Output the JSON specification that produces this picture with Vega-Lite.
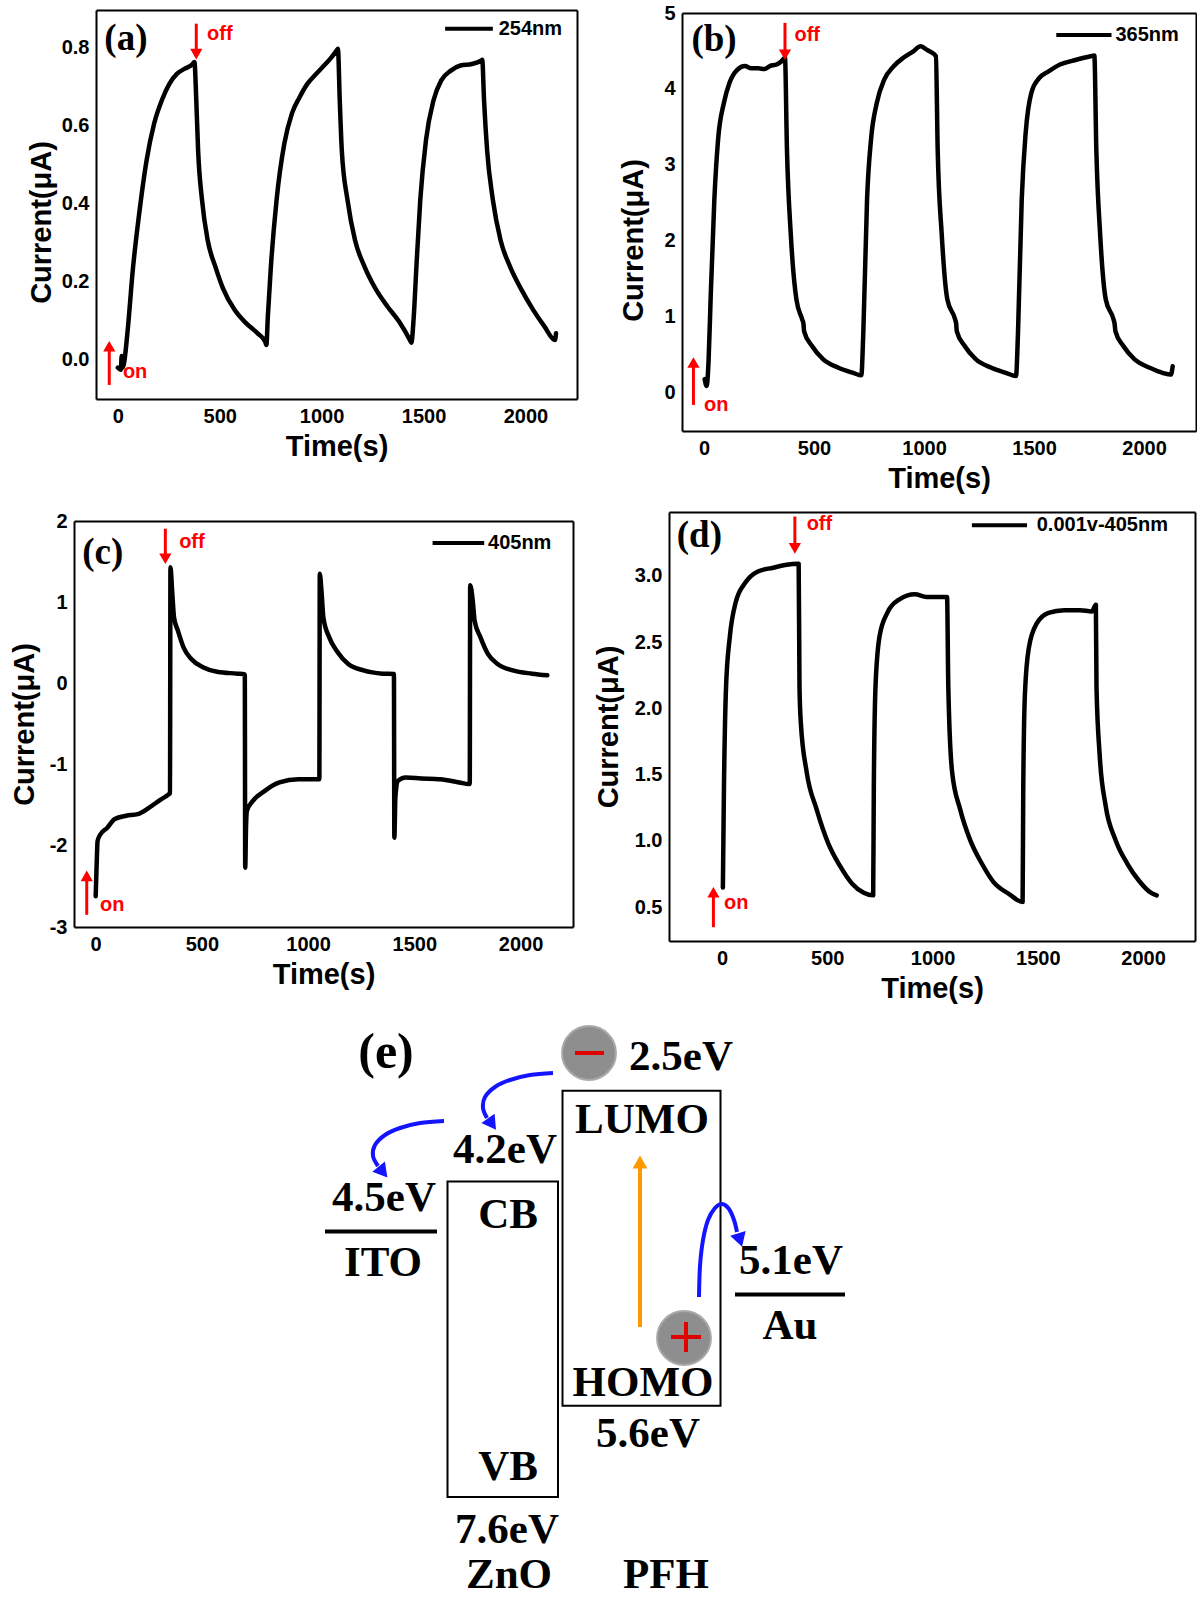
{
"$schema": "https://vega.github.io/schema/vega-lite/v6.json",
"width": 1197, "height": 1597,
"autosize": {"type": "none"},
"padding": 0,
"background": "white",
"config": {
 "view": {"stroke": null},
 "line": {"interpolate": "monotone"},
 "axis": {"grid": false, "ticks": false, "domain": true, "domainColor": "black", "domainWidth": 2,
  "labelFont": "Liberation Sans", "labelFontSize": 20, "labelFontWeight": "bold", "labelColor": "black", "labelPadding": 7,
  "titleFont": "Liberation Sans", "titleFontSize": 29, "titleFontWeight": "bold", "titleColor": "black", "titlePadding": 6}
},
"datasets": {
 "cA": [{"t":0,"i":-0.02},{"t":15,"i":-0.025},{"t":19,"i":0.01},{"t":24,"i":-0.02},{"t":30,"i":-0.01},{"t":47,"i":0.068},{"t":75,"i":0.238},{"t":103,"i":0.366},{"t":141,"i":0.51},{"t":178,"i":0.604},{"t":216,"i":0.664},{"t":253,"i":0.706},{"t":291,"i":0.732},{"t":329,"i":0.745},{"t":366,"i":0.756},{"t":376,"i":0.762},{"t":385,"i":0.664},{"t":394,"i":0.536},{"t":413,"i":0.41},{"t":441,"i":0.306},{"t":479,"i":0.238},{"t":516,"i":0.183},{"t":573,"i":0.128},{"t":629,"i":0.094},{"t":686,"i":0.068},{"t":723,"i":0.047},{"t":729,"i":0.038},{"t":736,"i":0.11},{"t":751,"i":0.238},{"t":779,"i":0.409},{"t":817,"i":0.553},{"t":854,"i":0.63},{"t":892,"i":0.672},{"t":930,"i":0.706},{"t":967,"i":0.728},{"t":1005,"i":0.749},{"t":1042,"i":0.77},{"t":1076,"i":0.793},{"t":1080,"i":0.796},{"t":1089,"i":0.664},{"t":1099,"i":0.536},{"t":1127,"i":0.409},{"t":1164,"i":0.306},{"t":1211,"i":0.238},{"t":1268,"i":0.179},{"t":1324,"i":0.136},{"t":1380,"i":0.098},{"t":1437,"i":0.047},{"t":1440,"i":0.044},{"t":1452,"i":0.11},{"t":1465,"i":0.238},{"t":1484,"i":0.409},{"t":1512,"i":0.562},{"t":1549,"i":0.664},{"t":1587,"i":0.715},{"t":1634,"i":0.74},{"t":1681,"i":0.753},{"t":1737,"i":0.757},{"t":1784,"i":0.766},{"t":1788,"i":0.768},{"t":1797,"i":0.664},{"t":1812,"i":0.536},{"t":1840,"i":0.41},{"t":1878,"i":0.306},{"t":1925,"i":0.238},{"t":1981,"i":0.179},{"t":2038,"i":0.128},{"t":2094,"i":0.085},{"t":2145,"i":0.051},{"t":2150,"i":0.068}],
 "cB": [{"t":3,"i":0.17},{"t":12,"i":0.08},{"t":21,"i":0.43},{"t":30,"i":1.22},{"t":47,"i":2.54},{"t":64,"i":3.33},{"t":90,"i":3.81},{"t":116,"i":4.08},{"t":151,"i":4.25},{"t":186,"i":4.3},{"t":215,"i":4.27},{"t":247,"i":4.27},{"t":275,"i":4.26},{"t":299,"i":4.3},{"t":330,"i":4.32},{"t":351,"i":4.36},{"t":368,"i":4.41},{"t":377,"i":3.2},{"t":394,"i":2.1},{"t":420,"i":1.22},{"t":446,"i":0.96},{"t":452,"i":0.9},{"t":455,"i":0.8},{"t":490,"i":0.61},{"t":542,"i":0.43},{"t":611,"i":0.32},{"t":681,"i":0.25},{"t":715,"i":0.22},{"t":724,"i":0.78},{"t":741,"i":2.54},{"t":759,"i":3.33},{"t":785,"i":3.81},{"t":819,"i":4.12},{"t":863,"i":4.3},{"t":906,"i":4.41},{"t":950,"i":4.49},{"t":984,"i":4.56},{"t":1010,"i":4.52},{"t":1028,"i":4.49},{"t":1054,"i":4.43},{"t":1062,"i":3.2},{"t":1080,"i":2.1},{"t":1106,"i":1.22},{"t":1141,"i":0.96},{"t":1146,"i":0.9},{"t":1149,"i":0.8},{"t":1184,"i":0.61},{"t":1236,"i":0.43},{"t":1306,"i":0.32},{"t":1375,"i":0.25},{"t":1418,"i":0.21},{"t":1427,"i":0.78},{"t":1444,"i":2.54},{"t":1462,"i":3.42},{"t":1488,"i":3.95},{"t":1523,"i":4.14},{"t":1566,"i":4.23},{"t":1618,"i":4.32},{"t":1688,"i":4.38},{"t":1757,"i":4.43},{"t":1774,"i":4.44},{"t":1783,"i":3.2},{"t":1800,"i":2.1},{"t":1826,"i":1.22},{"t":1861,"i":0.96},{"t":1866,"i":0.9},{"t":1870,"i":0.8},{"t":1905,"i":0.61},{"t":1957,"i":0.43},{"t":2026,"i":0.32},{"t":2087,"i":0.25},{"t":2122,"i":0.23},{"t":2130,"i":0.34}],
 "cC": [{"t":0,"i":-2.62},{"t":5,"i":-2.2},{"t":9,"i":-1.94},{"t":22,"i":-1.86},{"t":54,"i":-1.78},{"t":90,"i":-1.67},{"t":144,"i":-1.63},{"t":198,"i":-1.61},{"t":252,"i":-1.53},{"t":306,"i":-1.43},{"t":342,"i":-1.37},{"t":350,"i":-1.35},{"t":352,"i":1.43},{"t":360,"i":1.14},{"t":369,"i":0.81},{"t":387,"i":0.65},{"t":414,"i":0.44},{"t":450,"i":0.3},{"t":505,"i":0.2},{"t":577,"i":0.14},{"t":667,"i":0.12},{"t":702,"i":0.11},{"t":704,"i":-2.27},{"t":708,"i":-1.75},{"t":712,"i":-1.57},{"t":739,"i":-1.45},{"t":793,"i":-1.33},{"t":865,"i":-1.22},{"t":955,"i":-1.18},{"t":1045,"i":-1.18},{"t":1053,"i":-1.18},{"t":1055,"i":1.35},{"t":1063,"i":1.14},{"t":1072,"i":0.81},{"t":1099,"i":0.57},{"t":1135,"i":0.4},{"t":1189,"i":0.24},{"t":1261,"i":0.16},{"t":1351,"i":0.12},{"t":1404,"i":0.115},{"t":1406,"i":-1.9},{"t":1411,"i":-1.4},{"t":1423,"i":-1.2},{"t":1459,"i":-1.16},{"t":1532,"i":-1.17},{"t":1622,"i":-1.18},{"t":1712,"i":-1.22},{"t":1757,"i":-1.24},{"t":1761,"i":-1.24},{"t":1763,"i":1.21},{"t":1775,"i":1.02},{"t":1784,"i":0.77},{"t":1811,"i":0.57},{"t":1847,"i":0.36},{"t":1892,"i":0.24},{"t":1964,"i":0.16},{"t":2054,"i":0.12},{"t":2126,"i":0.1}],
 "cD": [{"t":4,"i":0.65},{"t":9,"i":1.39},{"t":19,"i":2.16},{"t":37,"i":2.54},{"t":65,"i":2.8},{"t":112,"i":2.95},{"t":168,"i":3.03},{"t":243,"i":3.06},{"t":299,"i":3.08},{"t":364,"i":3.09},{"t":368,"i":2.16},{"t":374,"i":1.9},{"t":402,"i":1.52},{"t":449,"i":1.24},{"t":505,"i":0.98},{"t":561,"i":0.81},{"t":617,"i":0.68},{"t":673,"i":0.61},{"t":718,"i":0.59},{"t":721,"i":1.39},{"t":729,"i":2.16},{"t":748,"i":2.54},{"t":785,"i":2.72},{"t":841,"i":2.82},{"t":916,"i":2.86},{"t":972,"i":2.84},{"t":1047,"i":2.84},{"t":1069,"i":2.84},{"t":1075,"i":2.16},{"t":1093,"i":1.52},{"t":1131,"i":1.24},{"t":1178,"i":1.01},{"t":1234,"i":0.83},{"t":1290,"i":0.69},{"t":1364,"i":0.6},{"t":1428,"i":0.54},{"t":1431,"i":1.39},{"t":1439,"i":2.11},{"t":1458,"i":2.46},{"t":1495,"i":2.64},{"t":1551,"i":2.72},{"t":1626,"i":2.74},{"t":1701,"i":2.74},{"t":1757,"i":2.73},{"t":1776,"i":2.78},{"t":1779,"i":2.16},{"t":1794,"i":1.65},{"t":1822,"i":1.27},{"t":1869,"i":1.01},{"t":1925,"i":0.83},{"t":1981,"i":0.7},{"t":2037,"i":0.61},{"t":2065,"i":0.59}],
 "lA": [{"t":1606,"t2":1840,"i":0.847}],
 "lB": [{"t":1601,"t2":1852,"i":4.71}],
 "lC": [{"t":1586,"t2":1829,"i":1.73}],
 "lD": [{"t":1187,"t2":1449,"i":3.38}],
 "rA": [{"t":-42,"i":-0.064,"i2":0.035},{"t":385,"i":0.86,"i2":0.782}],
 "rB": [{"t":-48,"i":-0.17,"i2":0.39},{"t":368,"i":4.87,"i2":4.45}],
 "rC": [{"t":-42,"i":-2.85,"i2":-2.37},{"t":328,"i":1.905,"i2":1.535}],
 "rD": [{"t":-41,"i":0.35,"i2":0.613},{"t":346,"i":3.446,"i2":3.206}],
 "hA": [{"t":-42,"i":0.035,"dir":"up"},{"t":385,"i":0.782,"dir":"down"}],
 "hB": [{"t":-48,"i":0.39,"dir":"up"},{"t":368,"i":4.45,"dir":"down"}],
 "hC": [{"t":-42,"i":-2.37,"dir":"up"},{"t":328,"i":1.535,"dir":"down"}],
 "hD": [{"t":-41,"i":0.613,"dir":"up"},{"t":346,"i":3.206,"dir":"down"}],
 "nA": [{"t":-66,"i":0.821,"label":"(a)","role":"tag"},{"t":25,"i":-0.03,"label":"on","role":"red"},{"t":438,"i":0.834,"label":"off","role":"red"},{"t":1869,"i":0.847,"label":"254nm","role":"leg"}],
 "nB": [{"t":-57,"i":4.64,"label":"(b)","role":"tag"},{"t":0,"i":-0.17,"label":"on","role":"red"},{"t":411,"i":4.71,"label":"off","role":"red"},{"t":1870,"i":4.71,"label":"365nm","role":"leg"}],
 "nC": [{"t":-63,"i":1.6,"label":"(c)","role":"tag"},{"t":20,"i":-2.73,"label":"on","role":"red"},{"t":393,"i":1.74,"label":"off","role":"red"},{"t":1847,"i":1.73,"label":"405nm","role":"leg"}],
 "nD": [{"t":-215,"i":3.3,"label":"(d)","role":"tag"},{"t":9,"i":0.53,"label":"on","role":"red"},{"t":402,"i":3.39,"label":"off","role":"red"},{"t":1495,"i":3.38,"label":"0.001v-405nm","role":"leg"}],
 "eBox": [{"name":"ZnO","ex":147.5,"ex2":258,"ey":181.5,"ey2":497},{"name":"PFH","ex":262.5,"ex2":420.5,"ey":90.7,"ey2":405.7}],
 "eLevel": [{"name":"ITO","ex":25,"ex2":137,"ey":231.6,"ey2":231.6},{"name":"Au","ex":435,"ex2":545,"ey":294.5,"ey2":294.5}],
 "eCar": [{"carrier":"electron","ex":289,"ey":53},{"carrier":"hole","ex":384,"ey":338}],
 "eSign": [{"ex":275,"ex2":304,"ey":53,"ey2":53},{"ex":371,"ex2":401,"ey":337,"ey2":337},{"ex":386,"ex2":386,"ey":322,"ey2":352}],
 "eExc": [{"ex":340,"ex2":340,"ey":327,"ey2":168}],
 "eExcHead": [{"ex":340,"ey":162,"ang":0}],
 "eFlow": [{"id":1,"k":0,"ex":253,"ey":73},{"id":1,"k":1,"ex":230,"ey":75},{"id":1,"k":2,"ex":210,"ey":80},{"id":1,"k":3,"ex":195,"ey":87},{"id":1,"k":4,"ex":185,"ey":97},{"id":1,"k":5,"ex":183,"ey":108},{"id":1,"k":6,"ex":187,"ey":118},
  {"id":2,"k":0,"ex":144,"ey":121},{"id":2,"k":1,"ex":120,"ey":123},{"id":2,"k":2,"ex":100,"ey":128},{"id":2,"k":3,"ex":85,"ey":135},{"id":2,"k":4,"ex":75,"ey":145},{"id":2,"k":5,"ex":73,"ey":156},{"id":2,"k":6,"ex":78,"ey":166},
  {"id":3,"k":0,"ex":399,"ey":297},{"id":3,"k":1,"ex":400,"ey":266},{"id":3,"k":2,"ex":403,"ey":240},{"id":3,"k":3,"ex":408,"ey":220},{"id":3,"k":4,"ex":415,"ey":208},{"id":3,"k":5,"ex":422,"ey":204},{"id":3,"k":6,"ex":429,"ey":209},{"id":3,"k":7,"ex":434,"ey":220},{"id":3,"k":8,"ex":437,"ey":232}],
 "eHead": [{"id":1,"ex":192,"ey":124,"ang":145},{"id":2,"ex":83,"ey":172,"ang":141},{"id":3,"ex":440,"ey":240,"ang":163}],
 "eTxt": [{"label":"2.5eV","ex":381,"ey":57},{"label":"4.2eV","ex":205,"ey":150},{"label":"LUMO","ex":342,"ey":120},{"label":"4.5eV","ex":84,"ey":198},{"label":"CB","ex":208,"ey":215},{"label":"ITO","ex":83,"ey":263},{"label":"5.1eV","ex":491,"ey":261},{"label":"Au","ex":490,"ey":326},{"label":"HOMO","ex":343,"ey":383},{"label":"5.6eV","ex":348,"ey":434},{"label":"VB","ex":208,"ey":467},{"label":"7.6eV","ex":207,"ey":530},{"label":"ZnO","ex":209,"ey":575},{"label":"PFH","ex":366,"ey":575}],
 "eTag": [{"label":"(e)","ex":86,"ey":53}]
},
"layer": [
 {"layer": [
  {"data": {"name": "cA"}, "mark": {"type": "line", "color": "black", "strokeWidth": 4.5, "strokeJoin": "round", "strokeCap": "round"},
   "encoding": {
    "x": {"field": "t", "type": "quantitative", "scale": {"domain": [-107, 2253], "range": [96, 577], "nice": false, "zero": false},
          "axis": {"orient": "bottom", "offset": -1198, "values": [0, 500, 1000, 1500, 2000], "format": "d", "title": "Time(s)"}},
    "y": {"field": "i", "type": "quantitative", "scale": {"domain": [-0.1, 0.895], "range": [399, 10], "nice": false, "zero": false},
          "axis": {"orient": "left", "offset": -96, "values": [0, 0.2, 0.4, 0.6, 0.8], "format": ".1f", "title": "Current(μA)", "titlePadding": 5, "titleY": 222}}}},
  {"data": {"name": "lA"}, "mark": {"type": "rule", "color": "black", "strokeWidth": 4},
   "encoding": {"x": {"field": "t", "type": "quantitative", "axis": {"orient": "top", "offset": -10, "labels": false, "title": null}}, "x2": {"field": "t2"},
    "y": {"field": "i", "type": "quantitative", "axis": {"orient": "right", "offset": -620, "labels": false, "title": null}}}},
  {"data": {"name": "rA"}, "mark": {"type": "rule", "color": "#ff0000", "strokeWidth": 3},
   "encoding": {"x": {"field": "t", "type": "quantitative", "axis": null}, "y": {"field": "i", "type": "quantitative", "axis": null}, "y2": {"field": "i2"}}},
  {"data": {"name": "hA"}, "mark": {"type": "point", "filled": true, "color": "#ff0000", "opacity": 1, "size": 150},
   "encoding": {"x": {"field": "t", "type": "quantitative", "axis": null}, "y": {"field": "i", "type": "quantitative", "axis": null},
    "shape": {"field": "dir", "type": "nominal", "scale": {"domain": ["up", "down"], "range": ["triangle-up", "triangle-down"]}, "legend": null}}},
  {"data": {"name": "nA"}, "transform": [{"filter": "datum.role === 'red'"}], "mark": {"type": "text", "align": "left", "baseline": "middle", "font": "Liberation Sans", "fontWeight": "bold", "fontSize": 20, "color": "#ff0000"},
   "encoding": {"x": {"field": "t", "type": "quantitative", "axis": null}, "y": {"field": "i", "type": "quantitative", "axis": null}, "text": {"field": "label"}}},
  {"data": {"name": "nA"}, "transform": [{"filter": "datum.role === 'tag'"}], "mark": {"type": "text", "align": "left", "baseline": "middle", "font": "Liberation Serif", "fontWeight": "bold", "fontSize": 37, "color": "black"},
   "encoding": {"x": {"field": "t", "type": "quantitative", "axis": null}, "y": {"field": "i", "type": "quantitative", "axis": null}, "text": {"field": "label"}}},
  {"data": {"name": "nA"}, "transform": [{"filter": "datum.role === 'leg'"}], "mark": {"type": "text", "align": "left", "baseline": "middle", "font": "Liberation Sans", "fontWeight": "bold", "fontSize": 20, "color": "black"},
   "encoding": {"x": {"field": "t", "type": "quantitative", "axis": null}, "y": {"field": "i", "type": "quantitative", "axis": null}, "text": {"field": "label"}}}
 ]},
 {"layer": [
  {"data": {"name": "cB"}, "mark": {"type": "line", "color": "black", "strokeWidth": 4.5, "strokeJoin": "round", "strokeCap": "round"},
   "encoding": {
    "x": {"field": "t", "type": "quantitative", "scale": {"domain": [-100, 2236], "range": [682, 1196], "nice": false, "zero": false},
          "axis": {"orient": "bottom", "offset": -1166, "values": [0, 500, 1000, 1500, 2000], "format": "d", "title": "Time(s)"}},
    "y": {"field": "i", "type": "quantitative", "scale": {"domain": [-0.514, 5.0], "range": [431, 13], "nice": false, "zero": false},
          "axis": {"orient": "left", "offset": -682, "values": [0, 1, 2, 3, 4, 5], "title": "Current(μA)", "titlePadding": 15, "titleY": 240}}}},
  {"data": {"name": "lB"}, "mark": {"type": "rule", "color": "black", "strokeWidth": 4},
   "encoding": {"x": {"field": "t", "type": "quantitative", "axis": {"orient": "top", "offset": -13, "labels": false, "title": null}}, "x2": {"field": "t2"},
    "y": {"field": "i", "type": "quantitative", "axis": {"orient": "right", "offset": -1, "labels": false, "title": null}}}},
  {"data": {"name": "rB"}, "mark": {"type": "rule", "color": "#ff0000", "strokeWidth": 3},
   "encoding": {"x": {"field": "t", "type": "quantitative", "axis": null}, "y": {"field": "i", "type": "quantitative", "axis": null}, "y2": {"field": "i2"}}},
  {"data": {"name": "hB"}, "mark": {"type": "point", "filled": true, "color": "#ff0000", "opacity": 1, "size": 150},
   "encoding": {"x": {"field": "t", "type": "quantitative", "axis": null}, "y": {"field": "i", "type": "quantitative", "axis": null},
    "shape": {"field": "dir", "type": "nominal", "scale": {"domain": ["up", "down"], "range": ["triangle-up", "triangle-down"]}, "legend": null}}},
  {"data": {"name": "nB"}, "transform": [{"filter": "datum.role === 'red'"}], "mark": {"type": "text", "align": "left", "baseline": "middle", "font": "Liberation Sans", "fontWeight": "bold", "fontSize": 20, "color": "#ff0000"},
   "encoding": {"x": {"field": "t", "type": "quantitative", "axis": null}, "y": {"field": "i", "type": "quantitative", "axis": null}, "text": {"field": "label"}}},
  {"data": {"name": "nB"}, "transform": [{"filter": "datum.role === 'tag'"}], "mark": {"type": "text", "align": "left", "baseline": "middle", "font": "Liberation Serif", "fontWeight": "bold", "fontSize": 37, "color": "black"},
   "encoding": {"x": {"field": "t", "type": "quantitative", "axis": null}, "y": {"field": "i", "type": "quantitative", "axis": null}, "text": {"field": "label"}}},
  {"data": {"name": "nB"}, "transform": [{"filter": "datum.role === 'leg'"}], "mark": {"type": "text", "align": "left", "baseline": "middle", "font": "Liberation Sans", "fontWeight": "bold", "fontSize": 20, "color": "black"},
   "encoding": {"x": {"field": "t", "type": "quantitative", "axis": null}, "y": {"field": "i", "type": "quantitative", "axis": null}, "text": {"field": "label"}}}
 ]},
 {"layer": [
  {"data": {"name": "cC"}, "mark": {"type": "line", "color": "black", "strokeWidth": 4.5, "strokeJoin": "round", "strokeCap": "round"},
   "encoding": {
    "x": {"field": "t", "type": "quantitative", "scale": {"domain": [-102, 2247], "range": [74, 573], "nice": false, "zero": false},
          "axis": {"orient": "bottom", "offset": -670, "values": [0, 500, 1000, 1500, 2000], "format": "d", "title": "Time(s)"}},
    "y": {"field": "i", "type": "quantitative", "scale": {"domain": [-3, 2], "range": [927, 521], "nice": false, "zero": false},
          "axis": {"orient": "left", "offset": -74, "values": [-3, -2, -1, 0, 1, 2], "labelExpr": "replace(datum.label, '−', '-')", "title": "Current(μA)", "titlePadding": 10}}}},
  {"data": {"name": "lC"}, "mark": {"type": "rule", "color": "black", "strokeWidth": 4},
   "encoding": {"x": {"field": "t", "type": "quantitative", "axis": {"orient": "top", "offset": -521, "labels": false, "title": null}}, "x2": {"field": "t2"},
    "y": {"field": "i", "type": "quantitative", "axis": {"orient": "right", "offset": -624, "labels": false, "title": null}}}},
  {"data": {"name": "rC"}, "mark": {"type": "rule", "color": "#ff0000", "strokeWidth": 3},
   "encoding": {"x": {"field": "t", "type": "quantitative", "axis": null}, "y": {"field": "i", "type": "quantitative", "axis": null}, "y2": {"field": "i2"}}},
  {"data": {"name": "hC"}, "mark": {"type": "point", "filled": true, "color": "#ff0000", "opacity": 1, "size": 150},
   "encoding": {"x": {"field": "t", "type": "quantitative", "axis": null}, "y": {"field": "i", "type": "quantitative", "axis": null},
    "shape": {"field": "dir", "type": "nominal", "scale": {"domain": ["up", "down"], "range": ["triangle-up", "triangle-down"]}, "legend": null}}},
  {"data": {"name": "nC"}, "transform": [{"filter": "datum.role === 'red'"}], "mark": {"type": "text", "align": "left", "baseline": "middle", "font": "Liberation Sans", "fontWeight": "bold", "fontSize": 20, "color": "#ff0000"},
   "encoding": {"x": {"field": "t", "type": "quantitative", "axis": null}, "y": {"field": "i", "type": "quantitative", "axis": null}, "text": {"field": "label"}}},
  {"data": {"name": "nC"}, "transform": [{"filter": "datum.role === 'tag'"}], "mark": {"type": "text", "align": "left", "baseline": "middle", "font": "Liberation Serif", "fontWeight": "bold", "fontSize": 37, "color": "black"},
   "encoding": {"x": {"field": "t", "type": "quantitative", "axis": null}, "y": {"field": "i", "type": "quantitative", "axis": null}, "text": {"field": "label"}}},
  {"data": {"name": "nC"}, "transform": [{"filter": "datum.role === 'leg'"}], "mark": {"type": "text", "align": "left", "baseline": "middle", "font": "Liberation Sans", "fontWeight": "bold", "fontSize": 20, "color": "black"},
   "encoding": {"x": {"field": "t", "type": "quantitative", "axis": null}, "y": {"field": "i", "type": "quantitative", "axis": null}, "text": {"field": "label"}}}
 ]},
 {"layer": [
  {"data": {"name": "cD"}, "mark": {"type": "line", "color": "black", "strokeWidth": 4.5, "strokeJoin": "round", "strokeCap": "round"},
   "encoding": {
    "x": {"field": "t", "type": "quantitative", "scale": {"domain": [-252, 2247], "range": [669, 1195], "nice": false, "zero": false},
          "axis": {"orient": "bottom", "offset": -656, "values": [0, 500, 1000, 1500, 2000], "format": "d", "title": "Time(s)"}},
    "y": {"field": "i", "type": "quantitative", "scale": {"domain": [0.246, 3.48], "range": [941, 512], "nice": false, "zero": false},
          "axis": {"orient": "left", "offset": -669, "values": [0.5, 1, 1.5, 2, 2.5, 3], "format": ".1f", "title": "Current(μA)", "titlePadding": 11}}}},
  {"data": {"name": "lD"}, "mark": {"type": "rule", "color": "black", "strokeWidth": 4},
   "encoding": {"x": {"field": "t", "type": "quantitative", "axis": {"orient": "top", "offset": -512, "labels": false, "title": null}}, "x2": {"field": "t2"},
    "y": {"field": "i", "type": "quantitative", "axis": {"orient": "right", "offset": -2, "labels": false, "title": null}}}},
  {"data": {"name": "rD"}, "mark": {"type": "rule", "color": "#ff0000", "strokeWidth": 3},
   "encoding": {"x": {"field": "t", "type": "quantitative", "axis": null}, "y": {"field": "i", "type": "quantitative", "axis": null}, "y2": {"field": "i2"}}},
  {"data": {"name": "hD"}, "mark": {"type": "point", "filled": true, "color": "#ff0000", "opacity": 1, "size": 150},
   "encoding": {"x": {"field": "t", "type": "quantitative", "axis": null}, "y": {"field": "i", "type": "quantitative", "axis": null},
    "shape": {"field": "dir", "type": "nominal", "scale": {"domain": ["up", "down"], "range": ["triangle-up", "triangle-down"]}, "legend": null}}},
  {"data": {"name": "nD"}, "transform": [{"filter": "datum.role === 'red'"}], "mark": {"type": "text", "align": "left", "baseline": "middle", "font": "Liberation Sans", "fontWeight": "bold", "fontSize": 20, "color": "#ff0000"},
   "encoding": {"x": {"field": "t", "type": "quantitative", "axis": null}, "y": {"field": "i", "type": "quantitative", "axis": null}, "text": {"field": "label"}}},
  {"data": {"name": "nD"}, "transform": [{"filter": "datum.role === 'tag'"}], "mark": {"type": "text", "align": "left", "baseline": "middle", "font": "Liberation Serif", "fontWeight": "bold", "fontSize": 37, "color": "black"},
   "encoding": {"x": {"field": "t", "type": "quantitative", "axis": null}, "y": {"field": "i", "type": "quantitative", "axis": null}, "text": {"field": "label"}}},
  {"data": {"name": "nD"}, "transform": [{"filter": "datum.role === 'leg'"}], "mark": {"type": "text", "align": "left", "baseline": "middle", "font": "Liberation Sans", "fontWeight": "bold", "fontSize": 20, "color": "black"},
   "encoding": {"x": {"field": "t", "type": "quantitative", "axis": null}, "y": {"field": "i", "type": "quantitative", "axis": null}, "text": {"field": "label"}}}
 ]},
 {"layer": [
  {"data": {"name": "eBox"}, "mark": {"type": "rect", "fill": "white", "fillOpacity": 0, "stroke": "black", "strokeWidth": 2},
   "encoding": {"x": {"field": "ex", "type": "quantitative", "scale": {"domain": [0, 560], "range": [300, 860], "nice": false, "zero": false}, "axis": null}, "x2": {"field": "ex2"},
    "y": {"field": "ey", "type": "quantitative", "scale": {"domain": [0, 597], "range": [1000, 1597], "nice": false, "zero": false}, "axis": null}, "y2": {"field": "ey2"}}},
  {"data": {"name": "eLevel"}, "mark": {"type": "rule", "color": "black", "strokeWidth": 4},
   "encoding": {"x": {"field": "ex", "type": "quantitative", "axis": null}, "x2": {"field": "ex2"}, "y": {"field": "ey", "type": "quantitative", "axis": null}, "y2": {"field": "ey2"}}},
  {"data": {"name": "eCar"}, "mark": {"type": "point", "shape": "circle", "filled": true, "color": "#8e8e8e", "opacity": 1, "size": 2900, "stroke": "#a9a9a9", "strokeWidth": 2},
   "encoding": {"x": {"field": "ex", "type": "quantitative", "axis": null}, "y": {"field": "ey", "type": "quantitative", "axis": null}}},
  {"data": {"name": "eSign"}, "mark": {"type": "rule", "color": "#e00000", "strokeWidth": 4},
   "encoding": {"x": {"field": "ex", "type": "quantitative", "axis": null}, "x2": {"field": "ex2"}, "y": {"field": "ey", "type": "quantitative", "axis": null}, "y2": {"field": "ey2"}}},
  {"data": {"name": "eExc"}, "mark": {"type": "rule", "color": "#ff9900", "strokeWidth": 4},
   "encoding": {"x": {"field": "ex", "type": "quantitative", "axis": null}, "x2": {"field": "ex2"}, "y": {"field": "ey", "type": "quantitative", "axis": null}, "y2": {"field": "ey2"}}},
  {"data": {"name": "eExcHead"}, "mark": {"type": "point", "shape": "triangle-up", "filled": true, "color": "#ff9900", "opacity": 1, "size": 220},
   "encoding": {"x": {"field": "ex", "type": "quantitative", "axis": null}, "y": {"field": "ey", "type": "quantitative", "axis": null}, "angle": {"field": "ang", "type": "quantitative", "scale": null}}},
  {"data": {"name": "eFlow"}, "mark": {"type": "line", "color": "#1414ff", "strokeWidth": 4, "interpolate": "cardinal"},
   "encoding": {"x": {"field": "ex", "type": "quantitative", "axis": null}, "y": {"field": "ey", "type": "quantitative", "axis": null}, "detail": {"field": "id"}, "order": {"field": "k", "type": "quantitative"}}},
  {"data": {"name": "eHead"}, "mark": {"type": "point", "shape": "triangle-up", "filled": true, "color": "#1414ff", "opacity": 1, "size": 260},
   "encoding": {"x": {"field": "ex", "type": "quantitative", "axis": null}, "y": {"field": "ey", "type": "quantitative", "axis": null}, "angle": {"field": "ang", "type": "quantitative", "scale": null}}},
  {"data": {"name": "eTxt"}, "mark": {"type": "text", "font": "Liberation Serif", "fontWeight": "bold", "fontSize": 43, "align": "center", "baseline": "middle", "color": "black"},
   "encoding": {"x": {"field": "ex", "type": "quantitative", "axis": null}, "y": {"field": "ey", "type": "quantitative", "axis": null}, "text": {"field": "label"}}},
  {"data": {"name": "eTag"}, "mark": {"type": "text", "font": "Liberation Serif", "fontWeight": "bold", "fontSize": 50, "align": "center", "baseline": "middle", "color": "black"},
   "encoding": {"x": {"field": "ex", "type": "quantitative", "axis": null}, "y": {"field": "ey", "type": "quantitative", "axis": null}, "text": {"field": "label"}}}
 ]}
],
"resolve": {"scale": {"x": "independent", "y": "independent"}, "axis": {"x": "independent", "y": "independent"}}
}
